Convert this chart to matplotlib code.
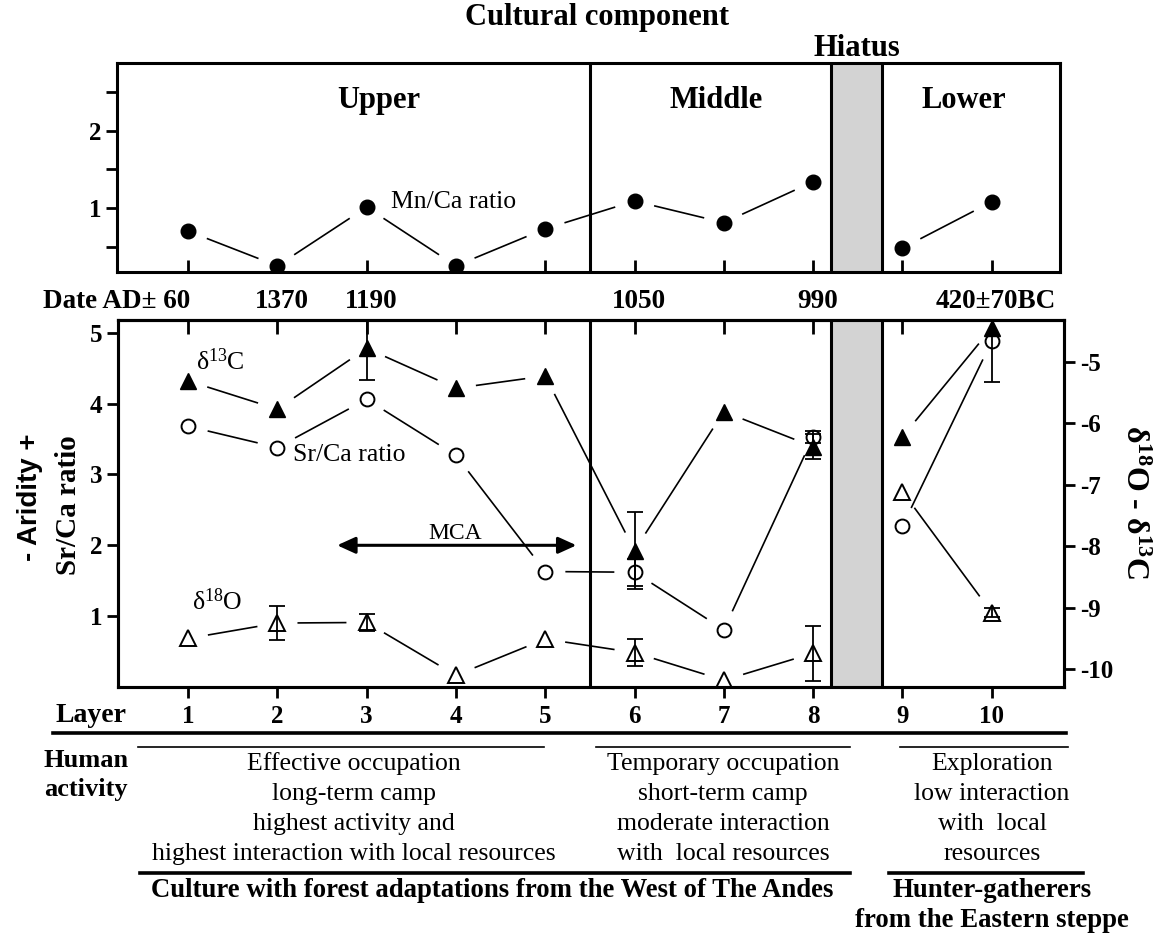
import numpy as np
import matplotlib
matplotlib.use("Agg")
import matplotlib.pyplot as plt
from matplotlib import transforms
from matplotlib.lines import Line2D

plt.rcParams['font.family'] = 'Liberation Serif'
plt.rcParams['mathtext.fontset'] = 'custom'
plt.rcParams['mathtext.rm'] = 'Liberation Serif'
plt.rcParams['mathtext.it'] = 'Liberation Serif:italic'
plt.rcParams['mathtext.bf'] = 'Liberation Serif:bold'
plt.rcParams['mathtext.default'] = 'regular'
plt.rcParams['axes.unicode_minus'] = False

# data
layers = [1, 2, 3, 4, 5, 6, 7, 8, 9, 10]
mn_ca = [0.70, 0.25, 1.01, 0.25, 0.73, 1.09, 0.81, 1.34, 0.48, 1.08]
sr_ca = [3.68, 3.38, 4.06, 3.27, 1.63, 1.62, 0.81, 3.53, 2.27, 4.88]
sr_ca_err = [0, 0, 0, 0, 0, 0.19, 0, 0.08, 0, 0.58]
d13c = [-5.31, -5.77, -4.78, -5.43, -5.23, -8.07, -5.81, -6.38, -6.22, -4.45]
d13c_err = [0, 0, 0.52, 0, 0, 0.62, 0, 0.20, 0, 0]
d18o = [-9.50, -9.25, -9.24, -10.10, -9.51, -9.73, -10.18, -9.74, -7.11, -9.08]
d18o_err = [0, 0.27, 0.14, 0, 0, 0.22, 0, 0.45, 0, 0.07]
groups = [(0, 8), (8, 10)]   # line breaks at the hiatus

date_layers = [1, 2, 3, 6, 8, 10]
date_labels = ['Date AD\u00b1 60', '1370', '1190', '1050', '990', '420\u00b170BC']

components = ['Upper', 'Middle', 'Lower']
component_x = [3.14, 6.91, 9.69]
split_x = 5.5
hiatus = (8.2, 8.77)

activity = [
    ['Effective occupation', 'long-term camp', 'highest activity and',
     'highest interaction with local resources'],
    ['Temporary occupation', 'short-term camp', 'moderate interaction',
     'with  local resources'],
    ['Exploration', 'low interaction', 'with  local', 'resources'],
]

# layout in pixels
W, H = 1156, 938
X1, PX_UNIT = 188, 89.3


def box(l, t, r, b):
    return [l / W, 1 - b / H, (r - l) / W, (b - t) / H]


def xl(l, r):
    return (1 + (l - X1) / PX_UNIT, 1 + (r - X1) / PX_UNIT)


def fx(px):
    return px / W


def fy(py):
    return 1 - py / H


def gapped(ax, xs, ys, gap=21, **kw):
    pts = ax.transData.transform(np.column_stack([xs, ys]))
    inv = ax.transData.inverted()
    for p, q in zip(pts[:-1], pts[1:]):
        d = q - p
        L = np.hypot(*d)
        if L <= 2 * gap:
            continue
        u = d / L
        a, b = inv.transform(np.array([p + u * gap, q - u * gap]))
        ax.plot([a[0], b[0]], [a[1], b[1]], color='k', lw=1.2, **kw)


def bold_ticks(ax, size=18):
    for t in ax.get_xticklabels() + ax.get_yticklabels():
        t.set_fontweight('bold')
        t.set_fontsize(size)


fig = plt.figure(figsize=(11.56, 9.38), dpi=100)

# ---- top panel: Mn/Ca
ax_top = fig.add_axes(box(117, 63, 1060, 272))
ax_top.set_xlim(*xl(117, 1060))
ax_top.set_ylim(0.17, 2.88)
for s in ax_top.spines.values():
    s.set_linewidth(2.2)
ax_top.axvline(split_x, color='k', lw=2.2)
ax_top.axvspan(*hiatus, color='#d3d3d3', lw=0)
for h in hiatus:
    ax_top.axvline(h, color='k', lw=2.2)
ax_top.set_xticks(layers)
ax_top.set_xticklabels([])
ax_top.tick_params(axis='x', direction='in', length=9, width=2)
ax_top.set_yticks([1, 2])
ax_top.set_yticks([0.5, 1.5, 2.5], minor=True)
ax_top.tick_params(axis='y', which='both', direction='out', length=8, width=2)
bold_ticks(ax_top)

for a, b in groups:
    gapped(ax_top, layers[a:b], mn_ca[a:b])
ax_top.plot(layers, mn_ca, 'o', color='k', ms=10.5, zorder=4)
ax_top.text(3.27, 1.08, 'Mn/Ca ratio', fontsize=18.5, va='center')
for name, cx in zip(components, component_x):
    ax_top.text(cx, 2.4, name, fontsize=22, fontweight='bold', ha='center', va='center')

tr = transforms.blended_transform_factory(ax_top.transData, fig.transFigure)
ax_top.text(sum(hiatus) / 2, fy(49), 'Hiatus', fontsize=22, fontweight='bold',
            ha='center', va='center', transform=tr)
for lx, lab in zip(date_layers, date_labels):
    if lab.startswith('Date'):
        ax_top.text(lx + 0.03, fy(302), lab, transform=tr, ha='right', va='center',
                    fontsize=19.5, fontweight='bold')
    else:
        ax_top.text(lx + 0.05, fy(302), lab, transform=tr, ha='center', va='center',
                    fontsize=19.5, fontweight='bold')

# ---- bottom panel: Sr/Ca and isotopes
ax = fig.add_axes(box(118, 320, 1064, 687))
ax.set_xlim(*xl(118, 1064))
ax.set_ylim(0, 5.18)
ax_r = ax.twinx()
ax_r.set_ylim(-10.29, -4.32)
for s in list(ax.spines.values()) + list(ax_r.spines.values()):
    s.set_linewidth(2.2)
ax.axvline(split_x, color='k', lw=2.2)
ax.axvspan(*hiatus, color='#d3d3d3', lw=0)
for h in hiatus:
    ax.axvline(h, color='k', lw=2.2)

ax.set_xticks(layers)
ax.set_xticklabels([str(l) for l in layers])
ax.tick_params(axis='x', direction='out', length=8, width=2, pad=5)
sec = ax.secondary_xaxis('top')
sec.set_xticks(layers)
sec.set_xticklabels([])
sec.tick_params(direction='in', length=10, width=2)
sec.spines['top'].set_linewidth(2.2)
ax.set_yticks([1, 2, 3, 4, 5])
ax.tick_params(axis='y', direction='out', length=8, width=2)
ax_r.set_yticks([-5, -6, -7, -8, -9, -10])
ax_r.tick_params(axis='y', direction='out', length=8, width=2)
bold_ticks(ax)
bold_ticks(ax_r)

for a, b in groups:
    gapped(ax, layers[a:b], sr_ca[a:b])
    gapped(ax_r, layers[a:b], d13c[a:b])
    gapped(ax_r, layers[a:b], d18o[a:b])


def err(axx, ys, es):
    idx = [i for i, e in enumerate(es) if e > 0]
    axx.errorbar([layers[i] for i in idx], [ys[i] for i in idx],
                 yerr=[es[i] for i in idx], fmt='none', ecolor='k',
                 elinewidth=1.3, capsize=6, capthick=1.3, zorder=5)


err(ax, sr_ca, sr_ca_err)
err(ax_r, d13c, d13c_err)
err(ax_r, d18o, d18o_err)

ax.plot(layers, sr_ca, 'o', mfc='none', mec='k', mew=1.4, ms=10, zorder=4)
ax_r.plot(layers, d13c, '^', color='k', ms=11, zorder=4)
ax_r.plot(layers, d18o, '^', mfc='none', mec='k', mew=1.4, ms=11, zorder=4)

ax.text(1.09, 4.40, r'$\delta^{13}$C', fontsize=18.5, va='bottom')
ax.text(1.05, 1.21, r'$\delta^{18}$O', fontsize=18.5, va='center')
ax.text(2.18, 3.28, 'Sr/Ca ratio', fontsize=18.5, va='center')
ax.annotate('', xy=(5.35, 2.0), xytext=(2.67, 2.0),
            arrowprops=dict(arrowstyle='<|-|>,head_length=0.55,head_width=0.25',
                            color='k', lw=2.2, mutation_scale=20,
                            shrinkA=0, shrinkB=0))
ax.text(3.99, 2.17, 'MCA', fontsize=17, ha='center', va='center')

fig.text(fx(69), fy(505), 'Sr/Ca ratio', rotation=90, fontsize=21,
         fontweight='bold', ha='center', va='center')
fig.text(fx(30), fy(497), '- Aridity +', rotation=90, fontsize=20,
         fontweight='bold', family='Liberation Sans', ha='center', va='center')
fig.text(fx(1134), fy(502), r'$\delta^{18}$O - $\delta^{13}$C', rotation=-90,
         fontsize=23, fontweight='bold', ha='center', va='center')

fig.text(fx(597), fy(18), 'Cultural component', fontsize=22, fontweight='bold',
         ha='center', va='center')

# ---- table below
fig.text(fx(55), fy(715), 'Layer', fontsize=20, fontweight='bold', va='center')
fig.text(fx(44), fy(760), 'Human', fontsize=19, fontweight='bold', va='center')
fig.text(fx(44), fy(789), 'activity', fontsize=19, fontweight='bold', va='center')


def hline(x0, x1, y, lw):
    fig.add_artist(Line2D([fx(x0), fx(x1)], [fy(y), fy(y)], color='k', lw=lw,
                          transform=fig.transFigure))


hline(53, 1066, 733, 2.6)
for (x0, x1) in [(138, 544), (596, 850), (900, 1068)]:
    hline(x0, x1, 747, 1.2)
hline(140, 850, 873, 2.6)
hline(889, 1083, 873, 2.6)

for cx, lines in zip([354, 723, 992], activity):
    for k, line in enumerate(lines):
        fig.text(fx(cx), fy(764 + 30 * k), line, fontsize=18.5, ha='center', va='center')

fig.text(fx(492), fy(890), 'Culture with forest adaptations from the West of The Andes',
         fontsize=19.3, fontweight='bold', ha='center', va='center')
fig.text(fx(992), fy(890), 'Hunter-gatherers', fontsize=19.3, fontweight='bold',
         ha='center', va='center')
fig.text(fx(992), fy(920), 'from the Eastern steppe', fontsize=19.3, fontweight='bold',
         ha='center', va='center')

fig.savefig('out.png', dpi=100)
